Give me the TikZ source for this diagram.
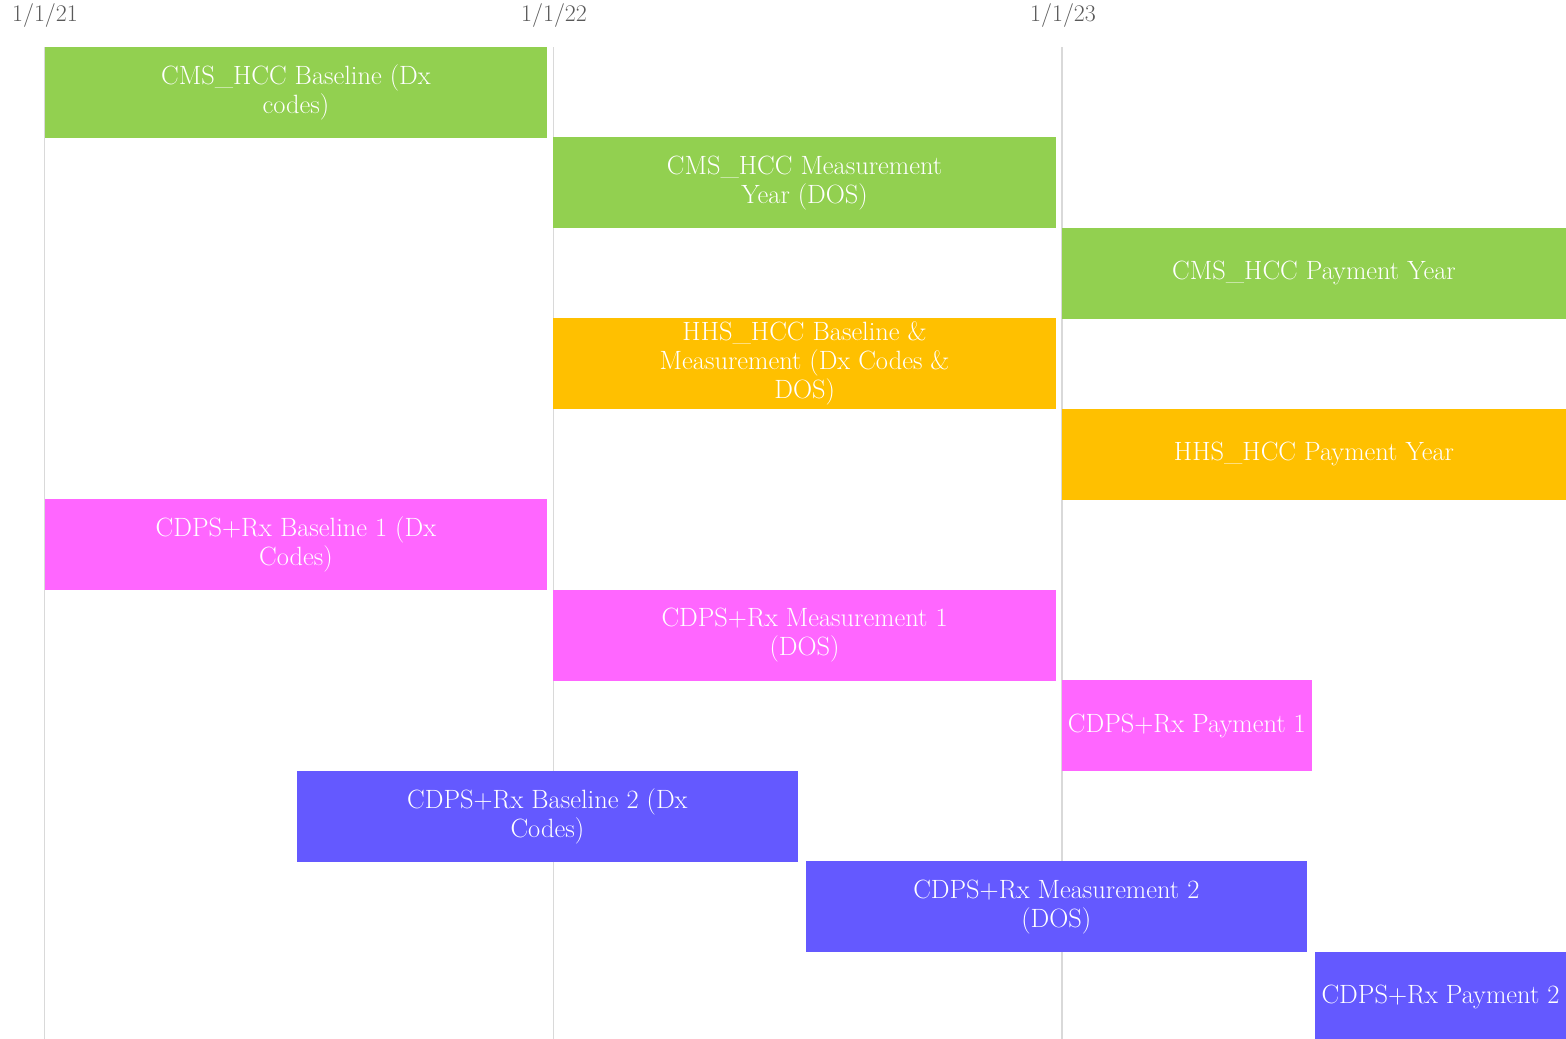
\documentclass[tikz,border=0pt]{standalone}
\usepackage{fontspec}

\definecolor{cmsgreen}{HTML}{92D050}
\definecolor{hhsgold}{HTML}{FFC000}
\definecolor{cdpspink}{HTML}{FF66FF}
\definecolor{cdpsblue}{HTML}{6459FF}
\definecolor{gridgray}{HTML}{D9D9D9}
\definecolor{dategray}{HTML}{595959}

\tikzset{
  bar/.style={inner sep=0pt, outer sep=0pt, minimum height=2.2625cm, text=white,
    align=center, font=\fontsize{18.8}{20.6}\selectfont},
  datelabel/.style={text=dategray, font=\fontsize{17}{20}\selectfont},
  gridline/.style={draw=gridgray, line width=1.4pt}
}

\begin{document}
\begin{tikzpicture}[x=0.025cm,y=-0.025cm]
\useasboundingbox (0,0) rectangle (1566,1039);

% year marks
\node[datelabel] (y21) at (45,16) {1/1/21};
\node[datelabel] (y22) at (554,16) {1/1/22};
\node[datelabel] (y23) at (1063,16) {1/1/23};

\coordinate (g21) at (44.5,47);
\coordinate (g22) at (553.5,47);
\coordinate (g23) at (1062,47);
\draw[gridline] (g21) -- (44.5,1039);
\draw[gridline] (g22) -- (553.5,1039);
\draw[gridline] (g23) -- (1062,1039);

% CMS_HCC
\node[bar, fill=cmsgreen, minimum width=12.5425cm] (cmsbase) at (295.9,92.25) {CMS\_HCC Baseline (Dx\\codes)};
\node[bar, fill=cmsgreen, minimum width=12.555cm] (cmsmeas) at (804.6,182.75) {CMS\_HCC Measurement\\Year (DOS)};
\node[bar, fill=cmsgreen, minimum width=12.6cm] (cmspay) at (1314,273.25) {CMS\_HCC Payment Year};

% HHS_HCC
\node[bar, fill=hhsgold, minimum width=12.555cm] (hhsmeas) at (804.6,363.75) {HHS\_HCC Baseline \&\\Measurement (Dx Codes \&\\DOS)};
\node[bar, fill=hhsgold, minimum width=12.6cm] (hhspay) at (1314,454.25) {HHS\_HCC Payment Year};

% CDPS+Rx, first cycle
\node[bar, fill=cdpspink, minimum width=12.5425cm] (cdpsbaseA) at (295.9,544.75) {CDPS+Rx Baseline 1 (Dx\\Codes)};
\node[bar, fill=cdpspink, minimum width=12.555cm] (cdpsmeasA) at (804.6,635.25) {CDPS+Rx Measurement 1\\(DOS)};
\node[bar, fill=cdpspink, minimum width=6.2425cm] (cdpspayA) at (1186.85,725.75) {CDPS+Rx Payment 1};

% CDPS+Rx, second cycle
\node[bar, fill=cdpsblue, minimum width=12.5175cm] (cdpsbaseB) at (547.35,816.25) {CDPS+Rx Baseline 2 (Dx\\Codes)};
\node[bar, fill=cdpsblue, minimum width=12.5175cm] (cdpsmeasB) at (1056.35,906.75) {CDPS+Rx Measurement 2\\(DOS)};
\node[bar, fill=cdpsblue, minimum width=6.275cm] (cdpspayB) at (1440.5,997.25) {CDPS+Rx Payment 2};
\end{tikzpicture}
\end{document}
